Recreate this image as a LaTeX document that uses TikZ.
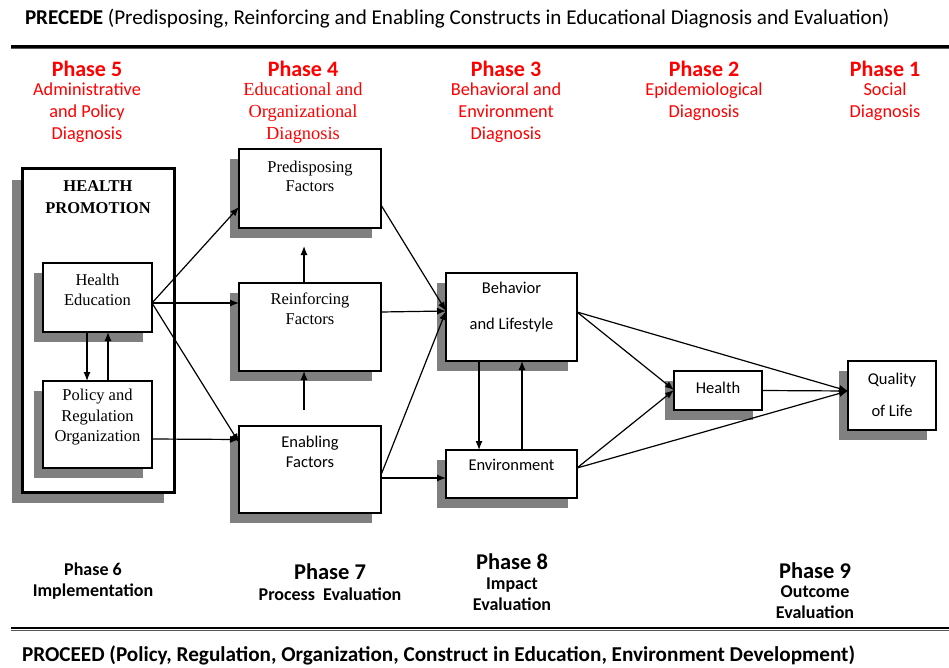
\documentclass[tikz,border=0pt]{standalone}
\usepackage{fontspec}
\setmainfont{Carlito}
\newfontfamily\tmsfont{Liberation Serif}
\usetikzlibrary{shadows,arrows.meta,calc}
\definecolor{phasered}{HTML}{FF0000}
\definecolor{shadowgray}{HTML}{808080}
\definecolor{rulegray}{HTML}{555555}

\begin{document}
\begin{tikzpicture}[x=1pt,y=-1pt,
  every node/.style={inner sep=0pt,outer sep=0pt},
  box/.style={draw=black,line width=1.6pt,fill=white,
    drop shadow={shadow xshift=-9.5pt,shadow yshift=-10pt,fill=shadowgray,opacity=1}},
  bigbox/.style={draw=black,line width=3pt,fill=white,
    drop shadow={shadow xshift=-10pt,shadow yshift=-11pt,fill=shadowgray,opacity=1}},
  arr/.style={-{Latex[length=9pt,width=7pt]},line width=1.2pt},
  hdr/.style={anchor=west,font=\fontsize{21.1}{24}\selectfont},
  ptitle/.style={text=phasered,font=\bfseries\fontsize{22}{24}\selectfont},
  pdesc/.style={text=phasered,align=center,font=\fontsize{18.3}{22}\selectfont},
  pdesctms/.style={text=phasered,align=center,font=\tmsfont\fontsize{18.4}{22}\selectfont},
  btitle/.style={font=\bfseries\fontsize{22.5}{24}\selectfont},
  bdesc/.style={align=center,font=\bfseries\fontsize{18}{21}\selectfont},
  tmstext/.style={align=center,font=\tmsfont\fontsize{16.5}{20.5}\selectfont},
  caltext/.style={align=center,font=\fontsize{16.5}{20}\selectfont}
]
\useasboundingbox (0,0) rectangle (949,668);

% header and footer rules
\coordinate (tl) at (11,46.5);
\coordinate (tr) at (949,46.5);
\coordinate (tl2) at (11,48.8);
\coordinate (tr2) at (949,48.8);
\draw[line width=2.4pt] (tl) -- (tr);
\draw[line width=1pt,rulegray] (tl2) -- (tr2);
\coordinate (bl) at (11,628);
\coordinate (br) at (949,628);
\coordinate (bl2) at (11,630.3);
\coordinate (br2) at (949,630.3);
\draw[line width=2.4pt] (bl) -- (br);
\draw[line width=1pt,rulegray] (bl2) -- (br2);

% titles
\node[hdr] (precede) at (25,19) {\textbf{PRECEDE} (Predisposing, Reinforcing and Enabling Constructs in Educational Diagnosis and Evaluation)};
\node[hdr,font=\bfseries\fontsize{21.2}{24}\selectfont] (proceed) at (22,655) {PROCEED (Policy, Regulation, Organization, Construct in Education, Environment Development)};

% diagnostic phases
\node[ptitle] (p5t) at (87,69) {Phase 5};
\node[ptitle] (p4t) at (303,69) {Phase 4};
\node[ptitle] (p3t) at (506,69) {Phase 3};
\node[ptitle] (p2t) at (704,69) {Phase 2};
\node[ptitle] (p1t) at (885,69) {Phase 1};
\node[pdesc] (p5d) at (87,113) {Administrative\\and Policy\\Diagnosis};
\node[pdesctms] (p4d) at (303,113) {Educational and\\Organizational\\Diagnosis};
\node[pdesc] (p3d) at (506,113) {Behavioral and\\Environment\\Diagnosis};
\node[pdesc] (p2d) at (704,102) {Epidemiological\\Diagnosis};
\node[pdesc] (p1d) at (885,102) {Social\\Diagnosis};

% evaluation phases
\node[bdesc] (p6) at (93,581.5) {Phase 6\\Implementation};
\node[btitle] (p7t) at (330,572) {Phase 7};
\node[bdesc] (p7d) at (330,594) {Process\ \ Evaluation};
\node[btitle] (p8t) at (512,562) {Phase 8};
\node[bdesc] (p8d) at (512,594) {Impact\\Evaluation};
\node[btitle] (p9t) at (815,571) {Phase 9};
\node[bdesc] (p9d) at (815,602.5) {Outcome\\Evaluation};

% boxes
\node[bigbox,minimum width=152pt,minimum height=323pt] (hp) at (98,330.5) {};
\node[box,minimum width=109pt,minimum height=69pt] (he) at (97.5,297.5) {};
\node[box,minimum width=109pt,minimum height=87pt] (pol) at (97.5,424.5) {};
\node[box,minimum width=142pt,minimum height=79pt] (pre) at (310,188.5) {};
\node[box,minimum width=142pt,minimum height=88pt] (rei) at (310,327) {};
\node[box,minimum width=142pt,minimum height=87pt] (ena) at (310,469.5) {};
\node[box,minimum width=131pt,minimum height=88pt] (beh) at (511.5,317) {};
\node[box,minimum width=131pt,minimum height=48pt] (env) at (511.5,474) {};
\node[box,minimum width=88pt,minimum height=39pt] (hea) at (718,390.5) {};
\node[box,minimum width=88pt,minimum height=69pt] (qol) at (892,395.5) {};

% box texts
\node[tmstext,font=\tmsfont\bfseries\fontsize{16.5}{22}\selectfont] (hpt) at (98,197) {HEALTH\\PROMOTION};
\node[tmstext] (het) at (97.5,290) {Health\\Education};
\node[tmstext] (polt) at (97.5,417.5) {Policy and\\Regulation\\Organization};
\node[tmstext,font=\tmsfont\fontsize{16.5}{19.5}\selectfont] (pret) at (310,176.5) {Predisposing\\Factors};
\node[tmstext] (reit) at (310,309) {Reinforcing\\Factors};
\node[caltext] (enat) at (310,452) {Enabling\\Factors};
\node[caltext,font=\fontsize{16.5}{36}\selectfont] (beht) at (511.5,307) {Behavior\\and Lifestyle};
\node[caltext] (envt) at (511.5,465) {Environment};
\node[caltext] (heat) at (718,388) {Health};
\node[caltext,font=\fontsize{16.5}{32}\selectfont] (qolt) at (892,395) {Quality\\of Life};

% health promotion links
\draw[arr] ([yshift=-5.5pt]he.east) -- ([yshift=-18.5pt]pre.west);
\draw[arr] ([yshift=-5.5pt]he.east) -- ([yshift=24pt]rei.west);
\draw[arr] ([yshift=-5.5pt]he.east) -- ([yshift=27pt]ena.west);
\draw[arr] ([yshift=-14.5pt]pol.east) -- ([yshift=30pt]ena.west);
\draw[arr] ([xshift=-10.5pt]he.south) -- ([xshift=-10.5pt]pol.north);
\draw[arr] ([xshift=10.5pt]pol.north) -- ([xshift=10.5pt]he.south);

% factor links
\draw[arr] ([xshift=-6pt]rei.north) -- ([xshift=-6pt,yshift=-18pt]pre.south);
\draw[arr] ([xshift=-6pt,yshift=16pt]ena.north) -- ([xshift=-6pt]rei.south);
\draw[arr] ([yshift=-16.5pt]pre.east) -- ([yshift=6pt]beh.west);
\draw[arr] ([yshift=15pt]rei.east) -- ([yshift=6pt]beh.west);
\draw[arr] ([yshift=-5.5pt]ena.east) -- ([yshift=6pt]beh.west);
\draw[arr] ([yshift=-8.5pt]ena.east) -- ([yshift=-4pt]env.west);

% behavior and environment
\draw[arr] ([xshift=-32.5pt]beh.south) -- ([xshift=-32.5pt]env.north);
\draw[arr] ([xshift=10.5pt]env.north) -- ([xshift=10.5pt]beh.south);
\draw[arr] ([yshift=5pt]beh.east) -- ([yshift=0.5pt]hea.west);
\draw[arr] ([yshift=5pt]beh.east) -- ([yshift=4.5pt]qol.west);
\draw[arr] ([yshift=6pt]env.east) -- ([yshift=0.5pt]hea.west);
\draw[arr] ([yshift=6pt]env.east) -- ([yshift=4.5pt]qol.west);
\draw[arr] (hea.east) -- ([yshift=4.5pt]qol.west);
\end{tikzpicture}
\end{document}
